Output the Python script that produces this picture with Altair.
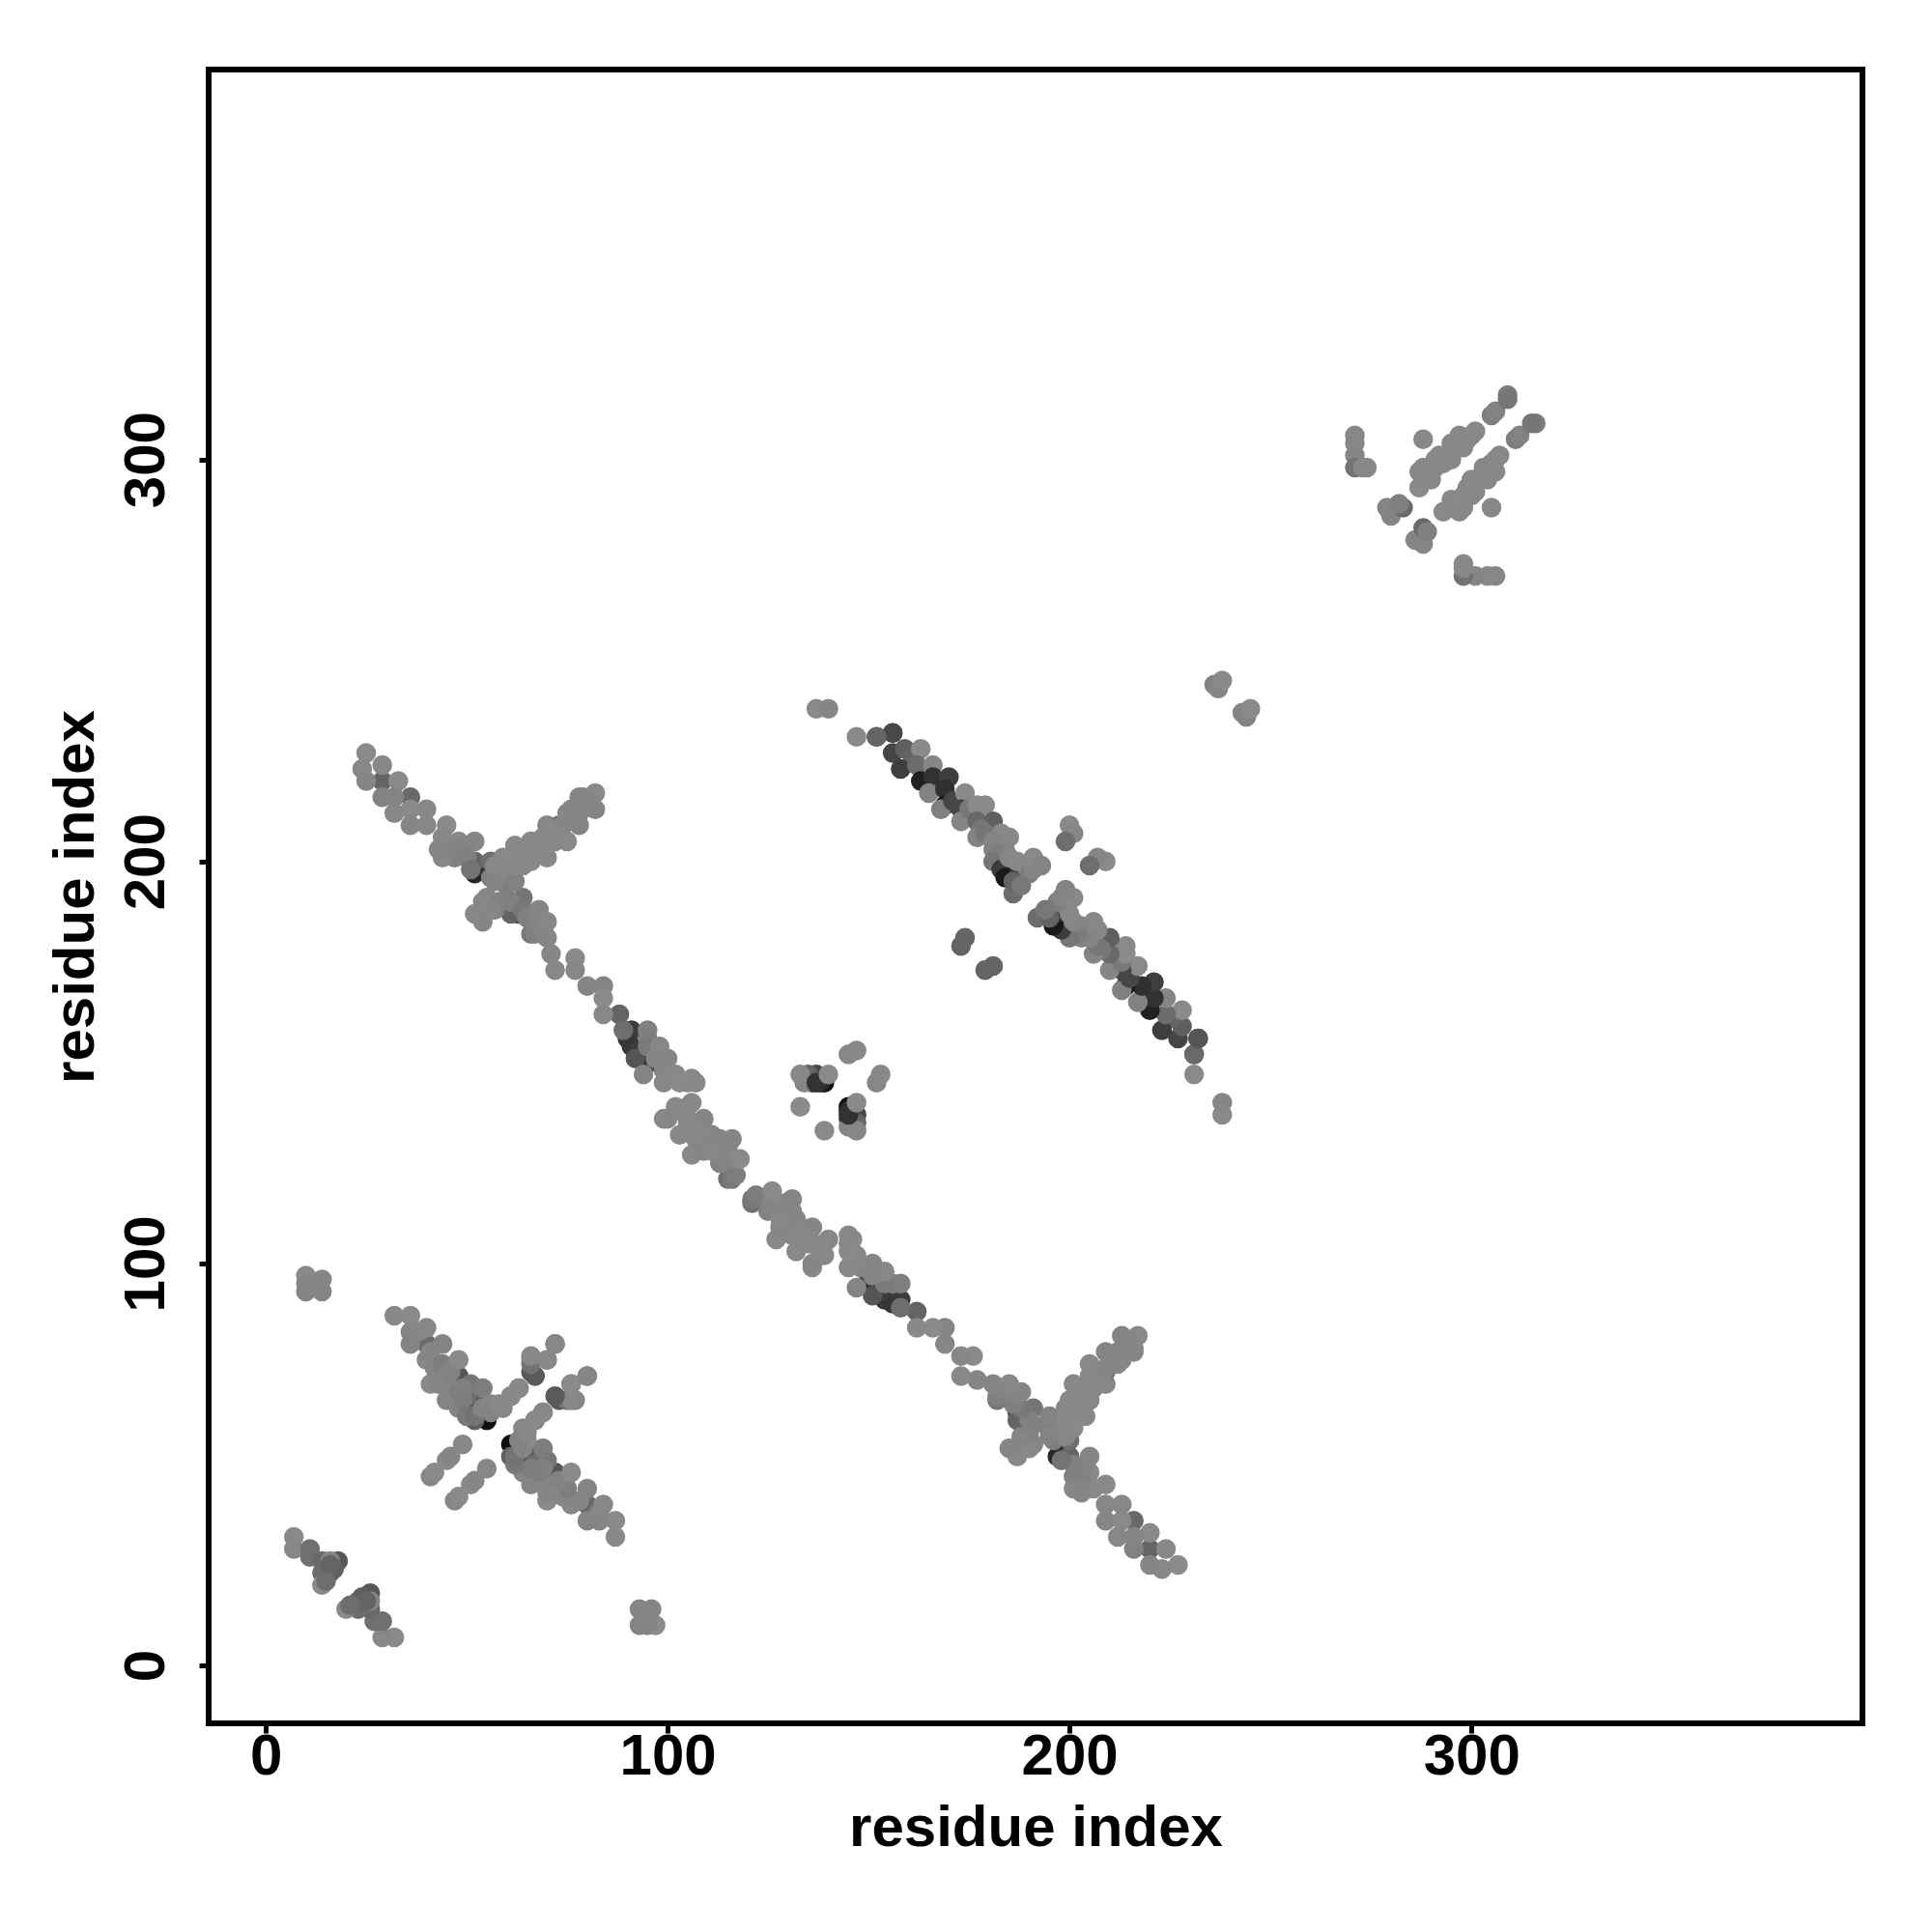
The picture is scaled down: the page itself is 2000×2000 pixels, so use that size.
import altair as alt
import pandas as pd

# Each row: residue i, residue j, grey level. The contact map is symmetric, so every
# contact is read once from the upper triangle and also shown at (j, i).
corner_a = [(10,97,138),(10,95,134),(10,93,132),(12,94,133),(14,96,133),(14,93,133)]
strand_b = [(7,32,138),(7,29,135),(11,29,112),(11,27,112),(14,26,105),(14,23,108),(16,23,100),
            (18,26,88),(14,20,138),(16,26,134),(17,24,95),(16,25,100),(15,21,110)]
main_a = [(52,197,40),(54,199,50),(63,187,70),(52,200,100),(61,187,100),(36,216,105),(29,220,100),(56,200,110),
          (66,182,118),(64,191,118),(61,190,120),(56,196,126),(60,194,126),(47,201,128),(68,184,128),
          (25,227,138),(24,223,136),(25,220,134),(29,224,135),(29,216,130),(33,220,138),
          (32,216,132),(36,213,138),(32,212,135),(36,209,134),(40,213,135),(40,209,135),
          (45,209,138),(44,206,136),(44,201,135),(48,205,137),(52,205,134),(43,203,134),(46,203,133),
          (48,203,130),(50,204,132),(50,201,128),(51,198,115),
          (59,201,138),(60,198,136),(57,199,135),(59,199,136),(62,199,136),(64,199,136),(57,195,132),
          (62,195,130),(55,191,134),(58,190,130),(61,190,128),(64,188,120),(65,186,128),(68,185,132),
          (67,182,128),(69,183,132),(53,187,134),(57,188,130),
          (54,190,135),(52,187,136),(54,185,134),(56,188,134),
          (68,188,133),(70,185,135),(70,181,134),(71,177,134),
          (72,173,136),(77,176,138),(77,173,135)]
wing_a = [(63,202,138),(66,205,138),(62,199,136),(66,200,138),(70,201,136),(69,206,135),(70,209,134),
          (73,209,118),(75,205,137),(75,212,135),(78,209,132),(78,216,134),(78,212,132),(82,213,132),(82,217,138),
          (66,205,136),(68,203,136),(71,208,136),(74,209,134),(76,213,134),(80,214,132),(79,216,134),(81,215,134),
          (72,205,136),(62,204,136),(64,203,136),(66,202,136)]
main_b = [(90,156,55),(91,158,60),(91,154,55),(93,153,60),(95,151,45),(92,151,85),(97,150,70),(88,162,100),(89,158,110),
          (80,169,134),(84,169,132),(84,166,138),(84,162,136),(95,158,128),(95,156,126),(95,154,122),(94,147,132),
          (98,154,135),(100,151,134),(97,151,133),(99,148,134),(99,145,135),(101,147,135),(102,147,136),(103,145,138),
          (105,145,136),(106,146,138),(107,145,136),
          (115,121,112),(116,121,120),(116,124,122),(117,122,125),(113,125,130),(115,126,132),
          (106,140,136),(102,138,136),(99,136,136),(100,136,134),(102,139,136),(105,139,136),(105,136,136),(105,135,134),
          (107,135,136),(103,132,136),(107,131,134),(106,127,136),(109,136,134),(109,133,134),(109,131,135),(111,132,134),
          (107,133,136),(109,128,134),(112,128,134),(113,131,133),(113,127,132),(111,128,135),(115,129,134),
          (116,131,134),(118,126,138)]
strand_c = [(137,238,138),(140,238,134),(147,231,138),(152,231,105),(156,227,70),(156,232,85),(159,228,95),
            (161,226,100),(163,228,138),(158,223,62),(162,224,108),(166,224,134),(163,220,32),(166,221,50),(170,221,62),
            (165,217,130),(169,218,48),(169,214,28),(168,213,128),(171,215,70),(174,217,138),(173,213,70),(173,210,134),
            (175,213,120),(177,214,138),(179,214,138),(177,210,105),(181,210,95),(178,208,118),(177,206,132),(179,207,118),
            (183,207,135),(185,206,136),(181,203,130),(181,205,132),(184,203,134),(182,202,125),(181,200,118),
            (183,198,60),(184,198,60),(184,196,25),(186,192,108),(187,196,55),(186,195,100),(185,201,134),
            (187,200,136),(189,199,136),(190,197,125),(188,194,120),(191,198,132),(191,201,137),(193,199,132)]
strand_c_end = [(232,156,72),(231,152,100)]
pair_d = [(174,181,102),(173,179,100),(200,209,138),(201,207,135),(199,205,110)]
pair_e = [(236,244,130),(237,243,133),(238,245,138)]
knot = [(139,145,15),(138,145,40),(136,145,60),(137,147,70),(135,147,100),(134,145,132),(133,139,138),(133,147,135),
        (137,145,50),(140,147,138),(145,152,134),(147,153,136)]
cross_f = [(55,61,15),(51,64,70),(48,72,85),(53,66,90),(52,61,95),(40,80,105),(50,67,110),(51,70,118),
           (32,87,136),(36,87,138),(36,83,134),(36,80,132),(38,83,134),(40,84,135),(40,76,135),(41,70,138),(41,78,134),
           (42,74,134),(43,70,134),(44,80,132),(44,75,126),(44,71,134),(45,66,132),(46,69,132),(46,73,130),(48,76,138),
           (48,68,126),(49,69,128),(48,64,132),(49,66,125),(50,62,120),(52,62,115),(54,69,125),(54,64,132),(56,65,136),(56,63,130)]
cross_g = [(58,65,136),(61,67,136),(63,69,136),(66,76,135),(67,72,90),(70,76,138),(72,80,134),(73,66,90),
           (75,66,115),(77,66,135),(76,70,136),(80,72,135),(69,63,136),(67,61,136),(64,59,135)]
cross_h = [(41,47,135),(42,48,138),(45,51,138),(46,52,134),(49,55,135)]
patch_j = [(271,306,135),(271,304,135),(271,301,133),(271,298,115),(273,298,135),(274,298,136),
           (288,305,136),(279,288,133),(280,286,133),(283,288,105),(282,289,128),
           (287,293,137),(288,296,136),(288,298,137),(287,297,136),(289,297,136),(290,295,136),(291,298,137),
           (291,300,136),(292,301,136),(293,299,136),(294,300,136),(294,301,136),(295,304,135),(295,300,136),
           (296,303,135),(297,303,135),(297,306,136),(298,303,135),(299,305,135),
           (300,306,135),(301,307,136),(305,311,125),(306,312,130),(309,316,125),(309,315,118)]

groups = [corner_a, strand_b, main_a, wing_a, main_b, strand_c, strand_c_end, pair_d, pair_e,
          knot, cross_f, cross_g, cross_h, patch_j]

rows = []
for group in groups:
    rows.extend(group)
upper = pd.DataFrame(rows, columns=["i", "j", "g"])
lower = upper.rename(columns={"i": "j", "j": "i"})
data = pd.concat([upper, lower], ignore_index=True)
data["colour"] = ["#{0:02x}{0:02x}{0:02x}".format(v) for v in data["g"]]

tick_values = [0, 100, 200, 300]
x_domain = [-14.2, 397.3]
y_domain = [-14.4, 397.0]

font = "Liberation Sans"
axis_common = dict(values=tick_values, grid=False, domain=False, tickSize=10, tickWidth=5, tickColor="black",
                   labelFont=font, labelFontWeight="bold", labelFontSize=60, labelColor="black",
                   titleFont=font, titleFontWeight="bold", titleFontSize=60, titleColor="black", format="d")

chart = (
    alt.Chart(data)
    .mark_circle(size=420, opacity=1, clip=False)
    .encode(
        x=alt.X("i:Q", scale=alt.Scale(domain=x_domain, nice=False, zero=False),
                axis=alt.Axis(title="residue index", labelPadding=-5, titlePadding=15, **axis_common)),
        y=alt.Y("j:Q", scale=alt.Scale(domain=y_domain, nice=False, zero=False),
                axis=alt.Axis(title="residue index", labelAngle=270, labelAlign="center", labelBaseline="bottom",
                              labelPadding=24, titlePadding=12, **axis_common)),
        color=alt.Color("colour:N", scale=None),
    )
    .properties(width=1712, height=1712,
                autosize=alt.AutoSizeParams(type="none"),
                padding={"left": 208, "top": 64, "right": 60, "bottom": 200},
                background="white")
    .configure_view(stroke="black", strokeWidth=6)
)

chart.save("out.html", embed_options={"renderer": "svg", "actions": False})
